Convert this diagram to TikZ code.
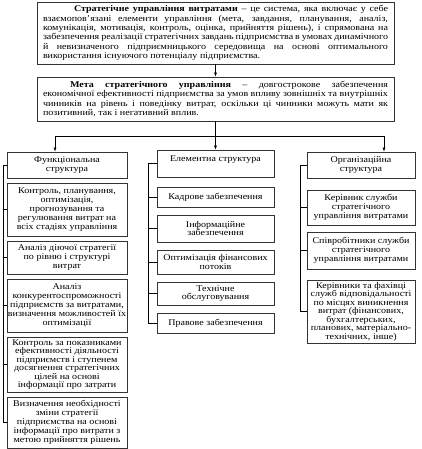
\documentclass[tikz,border=0pt]{standalone}
\usepackage{fontspec}
\setmainfont{Liberation Serif}
\newfontfamily\widefont{Liberation Serif}[FakeStretch=1.14]
\usetikzlibrary{arrows.meta,calc}
\newcommand\fsz{\fontsize{8.8}{9.3}\selectfont}
\newcommand\csz{\widefont\fontsize{8.8}{8.9}\selectfont}
\newcommand\tsz{\widefont\fontsize{8.8}{8.5}\selectfont}
\begin{document}
\begin{tikzpicture}[x=1pt,y=-1pt,
  box/.style={draw=black!80,line width=0.7pt,align=center,inner sep=0.5pt,font=\csz},
  lbox/.style={box,minimum width=120pt},
  cbox/.style={box,minimum width=117pt},
  rbox/.style={box,minimum width=108pt},
  tight/.style={font=\tsz},
  arr/.style={-{Latex[length=4pt,width=3pt]},line width=0.6pt},
  ln/.style={line width=0.6pt}]
\useasboundingbox (0,0) rectangle (422,449);
% top boxes
\node[box,minimum width=357pt,minimum height=62pt] (t1) at (215.5,33)
 {\parbox{345pt}{\fsz\hspace*{31pt}\textbf{Стратегічне управління витратами} – це система, яка включає у себе\linebreak
 взаємопов’язані елементи управління (мета, завдання, планування, аналіз,\linebreak
 комунікація, мотивація, контроль, оцінка, прийняття рішень), і спрямована на\linebreak
 забезпечення реалізації стратегічних завдань підприємства в умовах динамічного\linebreak
 й невизначеного підприємницького середовища на основі оптимального\linebreak
 використання існуючого потенціалу підприємства.}};
\node[box,minimum width=357pt,minimum height=44pt] (t2) at (215.5,99)
 {\parbox{345pt}{\fsz\hspace*{27pt}\textbf{Мета стратегічного управління} – довгострокове забезпечення\linebreak
 економічної ефективності підприємства за умов впливу зовнішніх та внутрішніх\linebreak
 чинників на рівень і поведінку витрат, оскільки ці чинники можуть мати як\linebreak
 позитивний, так і негативний вплив.}};
% left column
\node[lbox,minimum height=26pt] (l1) at (67,165) {Функціональна\\структура};
\node[lbox,minimum height=53pt] (l2) at (67,209.5) {Контроль, планування,\\оптимізація,\\прогнозування та\\регулювання витрат на\\всіх стадіях управління};
\node[lbox,minimum height=33pt] (l3) at (67,257.5) {Аналіз діючої стратегії\\по рівню і структурі\\витрат};
\node[lbox,minimum height=53pt] (l4) at (67,305.5) {Аналіз\\конкурентоспроможності\\підприємств за витратами,\\визначення можливостей їх\\оптимізації};
\node[lbox,tight,minimum height=55pt] (l5) at (67,364.5) {Контроль за показниками\\ефективності діяльності\\підприємств і ступенем\\досягнення стратегічних\\цілей на основі\\інформації про затрати};
\node[lbox,minimum height=51pt] (l6) at (67,422.5) {Визначення необхідності\\зміни стратегії\\підприємства на основі\\інформації про витрати з\\метою прийняття рішень};
% centre column
\node[cbox,minimum height=27pt] (c1) at (215.5,163.5) {Елементна структура\\\mbox{}};
\node[cbox,minimum height=20pt] (c2) at (215.5,197) {Кадрове забезпечення};
\node[cbox,minimum height=27pt] (c3) at (215.5,228.5) {Інформаційне\\забезпечення};
\node[cbox,minimum height=24pt] (c4) at (215.5,262) {Оптимізація фінансових\\потоків};
\node[cbox,minimum height=23pt] (c5) at (215.5,293.5) {Технічне\\обслуговування};
\node[cbox,minimum height=20pt] (c6) at (215.5,323) {Правове забезпечення};
% right column
\node[rbox,minimum height=26pt] (r1) at (361,165) {Організаційна\\структура};
\node[rbox,minimum height=35pt] (r2) at (361,207.5) {Керівник служби\\стратегічного\\управління витратами};
\node[rbox,minimum height=37pt] (r3) at (361,250.5) {Співробітники служби\\стратегічного\\управління витратами};
\node[rbox,tight,minimum height=63pt] (r4) at (361,311.5) {Керівники та фахівці\\служб відповідальності\\по місцях виникнення\\витрат (фінансових,\\бухгалтерських,\\планових, матеріально-\\технічних, інше)};
% connectors
\coordinate (j) at (215.5,136);
\coordinate (jl) at (55,136);
\coordinate (jr) at (384,136);
\draw[arr] (t1) -- (t2);
\draw[ln] (t2) -- (j);
\draw[ln] (jl) -- (jr);
\draw[arr] (jl) -- (jl |- l1.north);
\draw[arr] (j) -- (c1);
\draw[arr] (jr) -- (jr |- r1.north);
% brackets
\coordinate (lb) at (3,0);
\coordinate (cb) at (148,0);
\coordinate (rb) at (300,0);
\draw[ln] (l1.west) -- (l1.west -| lb) -- (l6.west -| lb) -- (l6.west);
\foreach \n in {l2,l3,l4,l5} \draw[ln] (\n.west -| lb) -- (\n.west);
\draw[ln] (c1.west) -- (c1.west -| cb) -- (c6.west -| cb) -- (c6.west);
\foreach \n in {c2,c3,c4,c5} \draw[ln] (\n.west -| cb) -- (\n.west);
\draw[ln] (r1.west) -- (r1.west -| rb) -- (r4.west -| rb) -- (r4.west);
\foreach \n in {r2,r3} \draw[ln] (\n.west -| rb) -- (\n.west);
\end{tikzpicture}
\end{document}
